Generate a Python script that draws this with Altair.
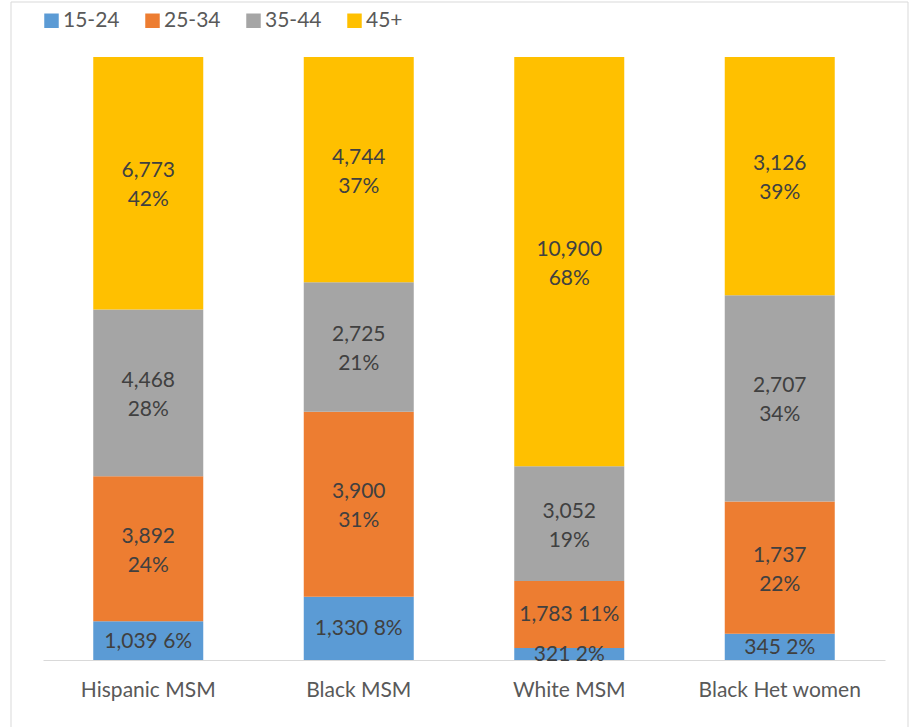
import altair as alt
import pandas as pd

groups = ["Hispanic MSM", "Black MSM", "White MSM", "Black Het women"]
ages = ["15-24", "25-34", "35-44", "45+"]
colors = ["#5B9BD5", "#ED7D31", "#A5A5A5", "#FFC000"]

counts = {
    "Hispanic MSM": [1039, 3892, 4468, 6773],
    "Black MSM": [1330, 3900, 2725, 4744],
    "White MSM": [321, 1783, 3052, 10900],
    "Black Het women": [345, 1737, 2707, 3126],
}
pcts = {
    "Hispanic MSM": [6, 24, 28, 42],
    "Black MSM": [8, 31, 21, 37],
    "White MSM": [2, 11, 19, 68],
    "Black Het women": [2, 22, 34, 39],
}
# whether the data label is shown on two lines
wrapped = {
    "Hispanic MSM": [False, True, True, True],
    "Black MSM": [False, True, True, True],
    "White MSM": [False, False, True, True],
    "Black Het women": [False, True, True, True],
}

rows = []
for g in groups:
    for i, a in enumerate(ages):
        sep = "\n" if wrapped[g][i] else " "
        rows.append({
            "group": g, "age": a, "order": i, "count": counts[g][i],
            "label": f"{counts[g][i]:,}{sep}{pcts[g][i]}%",
            "wrap": wrapped[g][i],
        })
df = pd.DataFrame(rows)

FONT = "Lato"

x_enc = alt.X("group:N", sort=groups, title=None,
              scale=alt.Scale(paddingInner=0.48, paddingOuter=0.24),
              axis=alt.Axis(labelAngle=0, ticks=False, domainColor="#D9D9D9",
                            domainWidth=1, labelFontSize=21, labelFont=FONT,
                            labelColor="#595959", labelPadding=19, grid=False))

bars = alt.Chart(df).mark_bar(size=110).encode(
    x=x_enc,
    y=alt.Y("count:Q", stack="normalize", axis=None,
            scale=alt.Scale(domain=[0, 1], nice=False)),
    color=alt.Color("age:N", sort=ages,
                    scale=alt.Scale(domain=ages, range=colors),
                    legend=alt.Legend(title=None, orient="none", direction="horizontal",
                                      legendX=-2, legendY=-47, symbolType="square",
                                      symbolSize=210, symbolStrokeWidth=0,
                                      labelFontSize=21, labelFont=FONT,
                                      labelColor="#595959", labelOffset=1,
                                      columnPadding=22, padding=0)),
    order=alt.Order("order:Q", sort="ascending"),
)

base_text = alt.Chart(df).transform_joinaggregate(
    total="sum(count)", groupby=["group"]
).transform_window(
    cum="sum(count)", sort=[alt.SortField("order", order="ascending")],
    groupby=["group"], frame=[None, 0]
).transform_calculate(
    mid="(datum.cum - datum.count / 2) / datum.total"
)

text_enc = dict(
    x=alt.X("group:N", sort=groups),
    y=alt.Y("mid:Q", scale=alt.Scale(domain=[0, 1], nice=False)),
    text="label:N",
)
text_style = dict(fontSize=21, font=FONT, color="#404040", lineBreak="\n",
                  lineHeight=29, baseline="middle", align="center")

texts_two = base_text.transform_filter("datum.wrap").mark_text(
    dy=-12, **text_style).encode(**text_enc)
texts_one = base_text.transform_filter("!datum.wrap").mark_text(
    dy=1, **text_style).encode(**text_enc)

border = alt.Chart(pd.DataFrame({"k": [0]})).mark_rect(
    fill="transparent", stroke="#D9D9D9", strokeWidth=1
).encode(
    x=alt.value(-32), x2=alt.value(865), y=alt.value(-55), y2=alt.value(720)
)

chart = alt.layer(border, bars, texts_two, texts_one).properties(
    width=842, height=603,
    padding={"left": 43, "top": 57, "right": 25, "bottom": 67},
    autosize=alt.AutoSizeParams(type="none"),
    background="white",
).configure_view(strokeWidth=0, stroke="transparent")

chart.save("out.html", embed_options={"renderer": "svg", "actions": False})
